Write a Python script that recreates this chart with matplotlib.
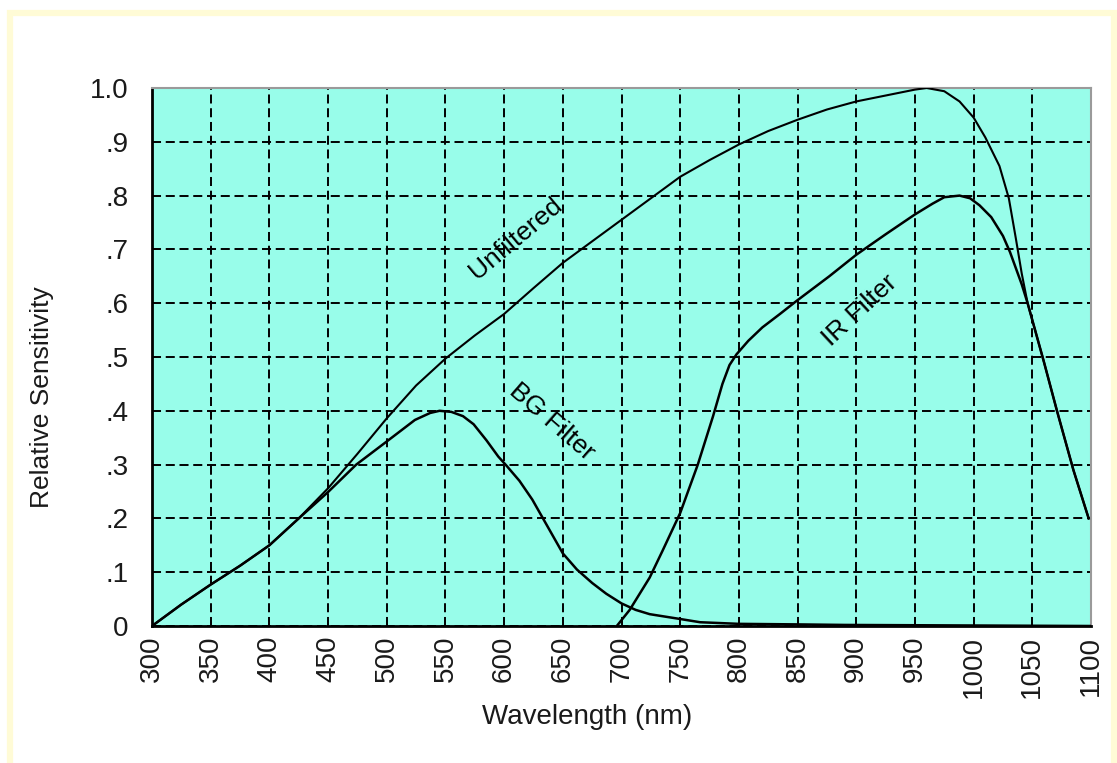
import matplotlib
matplotlib.use("Agg")
import matplotlib.pyplot as plt
from matplotlib.patches import Rectangle

plt.rcParams['font.family'] = ['Liberation Sans', 'DejaVu Sans']
plt.rcParams['lines.scale_dashes'] = False

# Spectral response curves (wavelength in nm, relative sensitivity)
unf_wl = [300, 325, 350, 375, 400, 425, 450, 475, 500, 525, 550, 575, 600, 625,
          650, 675, 700, 725, 750, 775, 800, 825, 850, 875, 900, 925, 950, 960,
          975, 988, 1000, 1010, 1022, 1030, 1036, 1041, 1046, 1060, 1071, 1085, 1098]
unf_val = [0.0, 0.04, 0.077, 0.112, 0.15, 0.2, 0.256, 0.32, 0.386, 0.447, 0.497,
           0.54, 0.58, 0.628, 0.675, 0.715, 0.755, 0.795, 0.835, 0.866, 0.895,
           0.92, 0.941, 0.96, 0.975, 0.986, 0.997, 1.0, 0.994, 0.975, 0.945,
           0.908, 0.855, 0.795, 0.72, 0.655, 0.6, 0.49, 0.4, 0.29, 0.2]

bg_wl = [300, 325, 350, 375, 400, 425, 450, 474, 500, 524, 537, 545, 555, 565,
         574, 585, 595, 602, 613, 624, 637, 650, 662, 675, 687, 700, 712, 724,
         750, 767, 800, 850, 890, 1100]
bg_val = [0.0, 0.04, 0.077, 0.112, 0.15, 0.2, 0.249, 0.3, 0.343, 0.383, 0.396,
          0.4, 0.398, 0.39, 0.375, 0.345, 0.315, 0.298, 0.27, 0.235, 0.185,
          0.135, 0.105, 0.08, 0.06, 0.042, 0.03, 0.022, 0.013, 0.007, 0.004,
          0.003, 0.002, 0.0]

ir_wl = [696, 707, 724, 735, 750, 765, 778, 786, 792, 798, 808, 820, 835, 849,
         877, 900, 925, 950, 965, 975, 988, 997, 1005, 1015, 1025, 1031, 1036,
         1041, 1046, 1060, 1071, 1085, 1098]
ir_val = [0.0, 0.03, 0.09, 0.14, 0.21, 0.3, 0.39, 0.45, 0.485, 0.505, 0.53,
          0.555, 0.58, 0.604, 0.65, 0.69, 0.728, 0.765, 0.785, 0.797, 0.8,
          0.795, 0.782, 0.76, 0.725, 0.695, 0.665, 0.635, 0.6, 0.49, 0.4,
          0.29, 0.2]

x_ticks = list(range(300, 1101, 50))
y_ticks = [0.0, 0.1, 0.2, 0.3, 0.4, 0.5, 0.6, 0.7, 0.8, 0.9, 1.0]
y_tick_labels = ['0', '.1', '.2', '.3', '.4', '.5', '.6', '.7', '.8', '.9', '1.0']

W, H = 1117, 763
fig = plt.figure(figsize=(W / 100, H / 100), dpi=100)
fig.patch.set_facecolor('white')

# pale yellow frame around the chart
fig.patches.append(Rectangle((10 / W, -0.05), (1114 - 10) / W, 1.05 - 13 / H,
                             transform=fig.transFigure, fill=False,
                             edgecolor='#fffbd6', linewidth=4.5, zorder=0))

ax = fig.add_axes([152 / W, (H - 626) / H, (1091 - 152) / W, (626 - 88) / H])
ax.set_facecolor('#98fdea')
ax.set_xlim(300, 1100)
ax.set_ylim(0, 1.0)

ax.set_xticks(x_ticks)
ax.set_xticklabels([str(v) for v in x_ticks], rotation=90, fontsize=20)
ax.set_yticks(y_ticks)
ax.set_yticklabels(y_tick_labels, fontsize=20)
ax.tick_params(axis='both', length=0, colors='#1a1a1a')
ax.tick_params(axis='x', pad=7)
ax.tick_params(axis='y', pad=17)

ax.grid(True, color='black', linewidth=1.4, linestyle=(0, (6.5, 3.4)))
ax.set_axisbelow(True)

for side in ('left', 'bottom'):
    ax.spines[side].set_color('black')
    ax.spines[side].set_linewidth(2)
for side in ('top', 'right'):
    ax.spines[side].set_color('#9a9a9a')
    ax.spines[side].set_linewidth(1.5)

ax.plot(unf_wl, unf_val, color='black', linewidth=1.5, zorder=3)
ax.plot(bg_wl, bg_val, color='black', linewidth=1.8, zorder=3)
ax.plot(ir_wl, ir_val, color='black', linewidth=1.8, zorder=3)

ax.text(610, 0.72, 'Unfiltered', rotation=40, fontsize=19,
        ha='center', va='center', zorder=4)
ax.text(641, 0.379, 'BG Filter', rotation=-41, fontsize=19,
        ha='center', va='center', zorder=4)
ax.text(903, 0.587, 'IR Filter', rotation=43, fontsize=19,
        ha='center', va='center', zorder=4)

ax.set_xlabel('Wavelength (nm)', fontsize=20, color='#1a1a1a')
ax.xaxis.set_label_coords((587 - 152) / 939, -91 / 538)
ax.xaxis.label.set_va('center')
ax.set_ylabel('Relative Sensitivity', fontsize=19, color='#1a1a1a')
ax.yaxis.set_label_coords((42 - 152) / 939, (626 - 397) / 538)
ax.yaxis.label.set_va('center')

fig.savefig('out.png', dpi=100, facecolor='white')
